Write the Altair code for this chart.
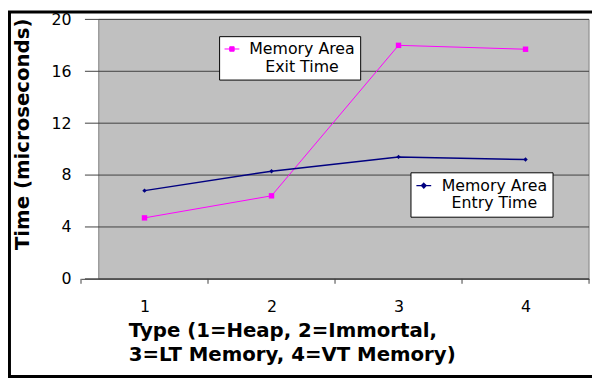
import altair as alt
import pandas as pd

# ---- data ----
types = [1, 2, 3, 4]
exit_time = [4.7, 6.4, 18.0, 17.7]
entry_time = [6.8, 8.3, 9.4, 9.2]
y_ticks = [0, 4, 8, 12, 16, 20]
boundaries = [0.5, 1.5, 2.5, 3.5, 4.5]
exit_label = ["Memory Area", "Exit Time"]
entry_label = ["Memory Area", "Entry Time"]
x_title = ["Type (1=Heap, 2=Immortal,", "3=LT Memory, 4=VT Memory)"]
y_title = "Time (microseconds)"

W, H = 515, 263
FONT = "DejaVu Sans"

exit_df = pd.DataFrame({"type": types, "time": exit_time, "series": "exit"})
entry_df = pd.DataFrame({"type": types, "time": entry_time, "series": "entry"})
grid_df = pd.DataFrame({"time": y_ticks})
bound_df = pd.DataFrame({"type": boundaries})
one = pd.DataFrame({"a": [0]})

xscale = alt.Scale(domain=[0.5, 4.5], nice=False, zero=False)
yscale = alt.Scale(domain=[0, 20], nice=False, zero=True)

xaxis = alt.Axis(values=types, format="d", ticks=False, tickSize=0, grid=False,
                 domain=True, domainColor="#404040", domainWidth=1,
                 labelPadding=20, labelFont=FONT, labelFontSize=16, labelColor="black",
                 title=x_title, titleFont=FONT, titleFontWeight="bold", titleFontSize=20,
                 titleColor="black", titleAlign="left", titleX=48, titleY=42,
                 titleBaseline="top", titleLineHeight=25, zindex=1)
yaxis = alt.Axis(values=y_ticks, format="d", ticks=False, tickSize=0, grid=False,
                 domain=False, labelPadding=10, labelFont=FONT, labelFontSize=16,
                 labelColor="black", title=y_title, titleFont=FONT, titleFontWeight="bold",
                 titleFontSize=20, titleColor="black", titleX=-59, titleY=116,
                 titleAngle=-90, titleAlign="center", titleBaseline="middle")

X = alt.X("type:Q", scale=xscale, axis=xaxis)
Y = alt.Y("time:Q", scale=yscale, axis=yaxis)


def lbl(lines):
    return "[" + ",".join("'" + s + "'" for s in lines) + "]"


border = alt.Chart(one).mark_rect(fill=None, stroke="black", strokeWidth=3).encode(
    x=alt.value(-72.5), x2=alt.value(560), y=alt.value(-7.5), y2=alt.value(362))

bg = alt.Chart(one).mark_rect(fill="#c0c0c0", stroke="#808080", strokeWidth=1).encode(
    x=alt.value(18), x2=alt.value(W), y=alt.value(0), y2=alt.value(H))

grid = alt.Chart(grid_df).mark_rule(color="#404040", strokeWidth=1).encode(
    y=Y, x=alt.value(4), x2=alt.value(W))

xticks = alt.Chart(bound_df).mark_rule(color="#404040", strokeWidth=1).encode(
    x=X, y=alt.value(H), y2=alt.value(H + 5))

exit_legend = alt.Legend(
    title=None, orient="none", legendX=140, legendY=17,
    labelExpr=lbl(exit_label), labelFont=FONT, labelFontSize=16, labelColor="black",
    labelAlign="center", labelOffset=63, labelLimit=300,
    fillColor="white", strokeColor="black", padding=5, cornerRadius=0,
    symbolType="M-1,0H1M-0.3,-0.3H0.3V0.3H-0.3Z", symbolSize=225, symbolStrokeWidth=1,
    symbolFillColor="#ff00ff", symbolStrokeColor="#ff00ff")
entry_legend = alt.Legend(
    title=None, orient="none", legendX=334, legendY=155,
    labelExpr=lbl(entry_label), labelFont=FONT, labelFontSize=16, labelColor="black",
    labelAlign="center", labelOffset=63, labelLimit=300,
    fillColor="white", strokeColor="black", padding=5, cornerRadius=0,
    symbolType="M-1,0H1M0,-0.3L0.3,0L0,0.3L-0.3,0Z", symbolSize=225, symbolStrokeWidth=1.5,
    symbolFillColor="#000080", symbolStrokeColor="#000080")

exit_line = alt.Chart(exit_df).mark_line(
    strokeWidth=1,
    point=alt.OverlayMarkDef(shape="square", size=30, filled=True, opacity=1),
).encode(
    x=X, y=Y,
    color=alt.Color("series:N", scale=alt.Scale(domain=["exit"], range=["#ff00ff"]),
                    legend=exit_legend))

entry_line = alt.Chart(entry_df).mark_line(
    strokeWidth=1.5,
    point=alt.OverlayMarkDef(shape="diamond", size=20, filled=True, opacity=1),
).encode(
    x=X, y=Y,
    color=alt.Color("series:N", scale=alt.Scale(domain=["entry"], range=["#000080"]),
                    legend=entry_legend))

chart = alt.layer(border, bg, grid, xticks, exit_line, entry_line).resolve_scale(
    color="independent").resolve_legend(color="independent").properties(
    width=W, height=H, autosize="none",
    padding={"left": 74, "top": 9, "right": 3, "bottom": 101},
    background="white",
).configure_view(stroke=None)

chart.save("out.html", embed_options={"renderer": "svg", "actions": False})
